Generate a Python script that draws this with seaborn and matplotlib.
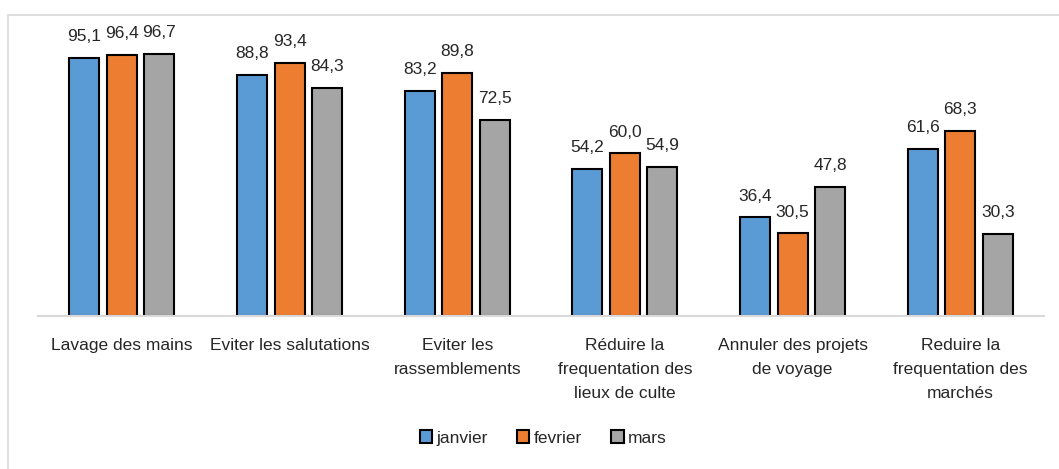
import numpy as np
import pandas as pd
import seaborn as sns
import matplotlib.pyplot as plt
from matplotlib.lines import Line2D

# data
categories = ["Lavage des mains", "Eviter les salutations", "Eviter les\nrassemblements",
              "Réduire la\nfrequentation des\nlieux de culte", "Annuler des projets\nde voyage",
              "Reduire la\nfrequentation des\nmarchés"]
months = ["janvier", "fevrier", "mars"]
janvier = [95.1, 88.8, 83.2, 54.2, 36.4, 61.6]
fevrier = [96.4, 93.4, 89.8, 60.0, 30.5, 68.3]
mars = [96.7, 84.3, 72.5, 54.9, 47.8, 30.3]
colors = ["#5B9BD5", "#ED7D31", "#A5A5A5"]

df = pd.DataFrame({
    "categorie": categories * 3,
    "mois": np.repeat(months, len(categories)),
    "valeur": janvier + fevrier + mars,
})

sns.set_style("white")
plt.rcParams['font.family'] = ['Liberation Sans Narrow', 'Liberation Sans', 'DejaVu Sans']
fs = 12.5

fig = plt.figure(figsize=(10.59, 4.69), dpi=100)
ax = fig.add_axes([0.0359, 0.326, 0.950, 0.578])

sns.barplot(data=df, x="categorie", y="valeur", hue="mois", palette=colors, saturation=1,
            width=0.671, gap=0.2, edgecolor="black", linewidth=1.5, ax=ax)

for cont in ax.containers:
    ax.bar_label(cont, labels=[f"{v:.1f}".replace(".", ",") for v in cont.datavalues],
                 padding=10, fontsize=fs, clip_on=False)

ax.set_xlim(-0.5, 5.5)
ax.set_ylim(0, 100)
ax.set_xlabel("")
ax.set_ylabel("")
ax.set_yticks([])
ax.tick_params(axis="x", length=0, pad=16, labelsize=fs)
for lab in ax.get_xticklabels():
    lab.set_linespacing(1.72)
for side in ["top", "right", "left"]:
    ax.spines[side].set_visible(False)
ax.spines["bottom"].set_color("#D9D9D9")
ax.spines["bottom"].set_linewidth(1.5)

ax.legend_.remove()
handles = [plt.Rectangle((0, 0), 1, 1, facecolor=c, edgecolor="black", linewidth=1.5) for c in colors]
fig.legend(handles, months, loc="center", bbox_to_anchor=(0.513, 0.066), ncol=3, frameon=False,
           handlelength=0.7, handleheight=0.7, handletextpad=0.25, columnspacing=1.7, fontsize=fs)

# outer chart frame (top and left edges visible)
fig.add_artist(Line2D([8 / 1059, 1], [1 - 15 / 469, 1 - 15 / 469], transform=fig.transFigure,
                      color="#D9D9D9", linewidth=1.2))
fig.add_artist(Line2D([8 / 1059, 8 / 1059], [0, 1 - 15 / 469], transform=fig.transFigure,
                      color="#D9D9D9", linewidth=1.2))

fig.savefig("out.png", dpi=100)
